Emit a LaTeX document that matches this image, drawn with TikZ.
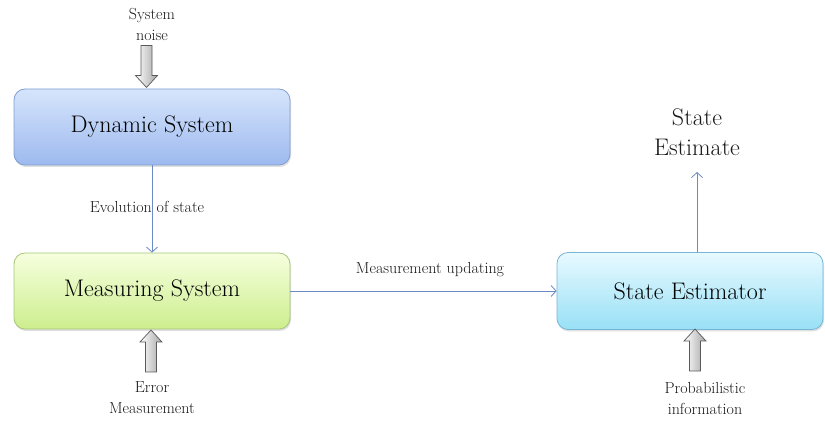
\documentclass[tikz,border=0pt]{standalone}
\usetikzlibrary{arrows.meta,shadows}
\definecolor{lnk}{HTML}{6A8BC3}
\definecolor{dsTop}{HTML}{D6E5FC}
\definecolor{dsBot}{HTML}{9DB9EE}
\definecolor{dsBrd}{HTML}{7F9FD2}
\definecolor{msTop}{HTML}{F6FFDE}
\definecolor{msBot}{HTML}{CDEE8E}
\definecolor{msBrd}{HTML}{A6C679}
\definecolor{seTop}{HTML}{E8FAFF}
\definecolor{seBot}{HTML}{98E0F6}
\definecolor{seBrd}{HTML}{78B6D6}
\tikzset{
  sysbox/.style={rounded corners=11pt, minimum width=276pt, minimum height=76pt,
    font=\fontsize{24}{28}\selectfont, line width=0.8pt,
    drop shadow={opacity=0.25, shadow xshift=1pt, shadow yshift=-2pt}},
  lbl/.style={font=\fontsize{16}{21}\selectfont, align=center, text=black!90, inner sep=0pt},
  big/.style={font=\fontsize{24}{30}\selectfont, align=center, text=black!90, inner sep=0pt},
  conn/.style={draw=lnk, line width=0.8pt, -{Straight Barb[length=5pt,width=11pt]}},
  blockfill/.style={draw=black!65, line width=0.7pt, left color=white, right color=black!35},
  blkarrow/.pic={
    \path[blockfill] (-5.5,-21) -- (5.5,-21) -- (5.5,9) -- (11,9) -- (0,21)
      -- (-11,9) -- (-5.5,9) -- cycle;
  }
}
\begin{document}
\begin{tikzpicture}[x=1pt,y=1pt]
\useasboundingbox (0,0) rectangle (825,423);
\node[sysbox, draw=dsBrd, top color=dsTop, bottom color=dsBot] (dyn) at (152,296) {Dynamic System};
\node[sysbox, draw=msBrd, top color=msTop, bottom color=msBot] (mea) at (152,132) {Measuring System};
\node[sysbox, draw=seBrd, top color=seTop, bottom color=seBot, minimum width=266pt, minimum height=77pt] (est) at (690,132) {State Estimator};

\node[lbl] (noise) at (152,399) {System\\noise};
\pic[rotate=180] at (146.5,356.5) {blkarrow};

\node[lbl] (evo) at (147,216) {Evolution of state};
\draw[conn] (dyn.south) -- (mea.north);

\pic at (151,72) {blkarrow};
\node[lbl] (err) at (152,25) {Error\\Measurement};

\node[lbl] (upd) at (430,153) {Measurement updating};
\draw[conn] (mea.east) -- (est.west);

\node[big] (out) at (697,291) {State\\Estimate};
\coordinate (outend) at (697,251);
\draw[conn] (est.north -| outend) -- (outend);

\pic at (695,73) {blkarrow};
\node[lbl] (prob) at (705,24) {Probabilistic\\information};
\end{tikzpicture}
\end{document}
